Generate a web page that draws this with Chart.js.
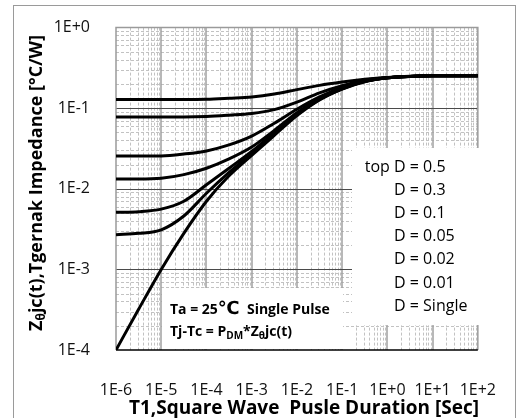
<!DOCTYPE html>
<html>
<head>
<meta charset="utf-8">
<script src="https://cdn.jsdelivr.net/npm/chart.js@4/dist/chart.umd.min.js"></script>
<style>
  html, body { margin: 0; padding: 0; background: #fff; }
  #wrap { width: 519px; height: 418px; }
</style>
</head>
<body>
<div id="wrap"><canvas id="c" width="519" height="418"></canvas></div>
<script>
// Pulse durations [s], half-decade steps
const pulseWidths = [1e-6, 3.16e-6, 1e-5, 3.16e-5, 1e-4, 3.16e-4, 1e-3, 3.16e-3, 1e-2, 3.16e-2, 1e-1, 3.16e-1, 1, 3.16, 10, 100];

// Transient thermal impedance Zθjc [°C/W] per duty cycle
const zthD050 = [0.128, 0.128, 0.128, 0.128, 0.129, 0.133, 0.138, 0.150, 0.170, 0.192, 0.211, 0.228, 0.241, 0.249, 0.252, 0.253];
const zthD030 = [0.078, 0.078, 0.078, 0.078, 0.079, 0.082, 0.086, 0.096, 0.119, 0.155, 0.190, 0.222, 0.239, 0.248, 0.252, 0.253];
const zthD010 = [0.0255, 0.0255, 0.0256, 0.027, 0.0295, 0.035, 0.045, 0.065, 0.097, 0.138, 0.181, 0.218, 0.238, 0.248, 0.252, 0.253];
const zthD005 = [0.0132, 0.0132, 0.0135, 0.015, 0.018, 0.0235, 0.033, 0.053, 0.088, 0.132, 0.177, 0.216, 0.238, 0.248, 0.252, 0.253];
const zthD002 = [0.0051, 0.0052, 0.0056, 0.0070, 0.0112, 0.018, 0.029, 0.050, 0.085, 0.130, 0.175, 0.215, 0.238, 0.248, 0.252, 0.253];
const zthD001 = [0.0027, 0.0028, 0.0031, 0.0046, 0.0088, 0.016, 0.0275, 0.048, 0.083, 0.128, 0.174, 0.214, 0.238, 0.248, 0.252, 0.253];
const zthSingle = [0.0001, 0.00032, 0.0010, 0.0028, 0.0070, 0.0145, 0.026, 0.046, 0.081, 0.127, 0.173, 0.213, 0.238, 0.248, 0.252, 0.253];

const seriesNames = ["D = 0.5", "D = 0.3", "D = 0.1", "D = 0.05", "D = 0.02", "D = 0.01", "D = Single"];
const seriesValues = [zthD050, zthD030, zthD010, zthD005, zthD002, zthD001, zthSingle];

// Axis decades
const xDecades = [-6, -5, -4, -3, -2, -1, 0, 1, 2];
const yDecades = [-4, -3, -2, -1, 0];

const FONT = "'Open Sans', 'DejaVu Sans', sans-serif";

function sciLabel(v) {
  const e = Math.round(Math.log10(v));
  return "1E" + (e >= 0 ? "+" : "-") + Math.abs(e);
}

const datasets = seriesValues.map((vals, i) => ({
  label: seriesNames[i],
  data: pulseWidths.map((t, k) => ({ x: t, y: vals[k] })),
  borderColor: "#000",
  borderWidth: 3,
  pointRadius: 0,
  fill: false,
  cubicInterpolationMode: "monotone"
}));

// Grid, frame, annotation boxes and axis titles
const decorations = {
  id: "decorations",
  beforeDraw(chart) {
    const ctx = chart.ctx;
    ctx.save();
    ctx.fillStyle = "#fff";
    ctx.fillRect(0, 0, chart.width, chart.height);
    ctx.strokeStyle = "#9a9a9a";
    ctx.lineWidth = 1;
    ctx.strokeRect(13.5, 5.5, 502, 430);
    ctx.restore();
  },
  beforeDatasetsDraw(chart) {
    const { ctx, chartArea: a, scales: { x, y } } = chart;
    ctx.save();
    // minor dashed lines
    ctx.strokeStyle = "#c2c2c2";
    ctx.lineWidth = 1;
    ctx.setLineDash([3, 2]);
    for (let e = -6; e < 2; e++) {
      for (let m = 2; m <= 9; m++) {
        const px = Math.round(x.getPixelForValue(m * Math.pow(10, e))) + 0.5;
        ctx.beginPath(); ctx.moveTo(px, a.top); ctx.lineTo(px, a.bottom); ctx.stroke();
      }
    }
    for (let e = -4; e < 0; e++) {
      for (let m = 2; m <= 9; m++) {
        const py = Math.round(y.getPixelForValue(m * Math.pow(10, e))) + 0.5;
        ctx.beginPath(); ctx.moveTo(a.left, py); ctx.lineTo(a.right, py); ctx.stroke();
      }
    }
    ctx.setLineDash([]);
    // major vertical lines
    ctx.strokeStyle = "#a0a0a0";
    ctx.lineWidth = 1.5;
    xDecades.slice(1, -1).forEach(e => {
      const px = Math.round(x.getPixelForValue(Math.pow(10, e)));
      ctx.beginPath(); ctx.moveTo(px, a.top); ctx.lineTo(px, a.bottom); ctx.stroke();
    });
    // major horizontal lines
    ctx.strokeStyle = "#4a4a4a";
    ctx.lineWidth = 1;
    yDecades.slice(1, -1).forEach(e => {
      const py = Math.round(y.getPixelForValue(Math.pow(10, e))) + 0.5;
      ctx.beginPath(); ctx.moveTo(a.left, py); ctx.lineTo(a.right, py); ctx.stroke();
    });
    // plot frame
    ctx.strokeStyle = "#9a9a9a";
    ctx.lineWidth = 1.5;
    ctx.beginPath();
    ctx.moveTo(a.left, a.bottom); ctx.lineTo(a.left, a.top); ctx.lineTo(a.right, a.top); ctx.lineTo(a.right, a.bottom);
    ctx.stroke();
    ctx.strokeStyle = "#000";
    ctx.lineWidth = 1.5;
    ctx.beginPath(); ctx.moveTo(a.left, a.bottom); ctx.lineTo(a.right, a.bottom); ctx.stroke();

    // duty-cycle key
    ctx.fillStyle = "#fff";
    ctx.fillRect(352, 148, 135, 177);
    ctx.fillStyle = "#000";
    ctx.font = "16px " + FONT;
    ctx.textBaseline = "middle";
    ctx.textAlign = "left";
    seriesNames.forEach((name, i) => {
      ctx.fillText(name, 394, 167 + i * 23.2);
    });
    ctx.textAlign = "right";
    ctx.fillText("top ", 394, 167);

    // test conditions
    ctx.fillStyle = "#fff";
    ctx.fillRect(162, 288, 181, 61);
    ctx.fillStyle = "#000";
    ctx.textAlign = "left";
    ctx.font = "bold 14px " + FONT;
    let cx = 170;
    ctx.fillText("Ta = 25", cx, 310);
    cx += ctx.measureText("Ta = 25").width;
    ctx.font = "bold 18px " + FONT;
    ctx.fillText("\u2103", cx, 309);
    cx += ctx.measureText("\u2103").width;
    ctx.font = "bold 14px " + FONT;
    ctx.fillText("  Single Pulse", cx, 310);

    const parts = [["Tj-Tc = P", 0], ["DM", 1], ["*Z", 0], ["\u03b8", 1], ["jc(t)", 0]];
    cx = 170;
    parts.forEach(([s, sub]) => {
      ctx.font = (sub ? "bold 10px " : "bold 14px ") + FONT;
      ctx.fillText(s, cx, sub ? 336 : 332);
      cx += ctx.measureText(s).width;
    });
    ctx.restore();
  },
  afterDraw(chart) {
    const ctx = chart.ctx;
    ctx.save();
    ctx.fillStyle = "#000";
    ctx.textBaseline = "middle";
    // x-axis title
    ctx.font = "bold 19px " + FONT;
    ctx.textAlign = "center";
    ctx.fillText("T1,Square Wave  Pusle Duration [Sec]", 304, 409);
    // y-axis title with subscript
    const yParts = [["Z", 0], ["\u03b8", 1], ["jc(t),Tgernak Impedance [\u00b0C/W]", 0]];
    const fnt = s => (s ? "bold 12px " : "bold 18px ") + FONT;
    let total = 0;
    yParts.forEach(([s, sub]) => { ctx.font = fnt(sub); total += ctx.measureText(s).width; });
    ctx.translate(37, 183);
    ctx.rotate(-Math.PI / 2);
    ctx.textAlign = "left";
    let px = -total / 2;
    yParts.forEach(([s, sub]) => {
      ctx.font = fnt(sub);
      ctx.fillText(s, px, sub ? 5 : 0);
      px += ctx.measureText(s).width;
    });
    ctx.restore();
  }
};

new Chart(document.getElementById("c"), {
  type: "line",
  data: { datasets },
  options: {
    responsive: false,
    animation: false,
    layout: { padding: { top: 26, right: 29, left: 0, bottom: 0 } },
    plugins: { legend: { display: false }, tooltip: { enabled: false } },
    scales: {
      x: {
        type: "logarithmic",
        min: 1e-6,
        max: 1e2,
        grid: { display: false },
        border: { display: false },
        afterBuildTicks: s => { s.ticks = xDecades.map(e => ({ value: Math.pow(10, e) })); },
        afterFit: s => { s.height = 68; },
        ticks: {
          autoSkip: false,
          maxRotation: 0,
          padding: 23,
          color: "#111",
          font: { family: FONT, size: 16 },
          callback: v => sciLabel(v)
        }
      },
      y: {
        type: "logarithmic",
        min: 1e-4,
        max: 1,
        grid: { display: false },
        border: { display: false },
        afterBuildTicks: s => { s.ticks = yDecades.map(e => ({ value: Math.pow(10, e) })); },
        afterFit: s => { s.width = 116; },
        ticks: {
          autoSkip: false,
          padding: 18,
          color: "#111",
          font: { family: FONT, size: 16 },
          callback: v => sciLabel(v)
        }
      }
    }
  },
  plugins: [decorations]
});
</script>
</body>
</html>
